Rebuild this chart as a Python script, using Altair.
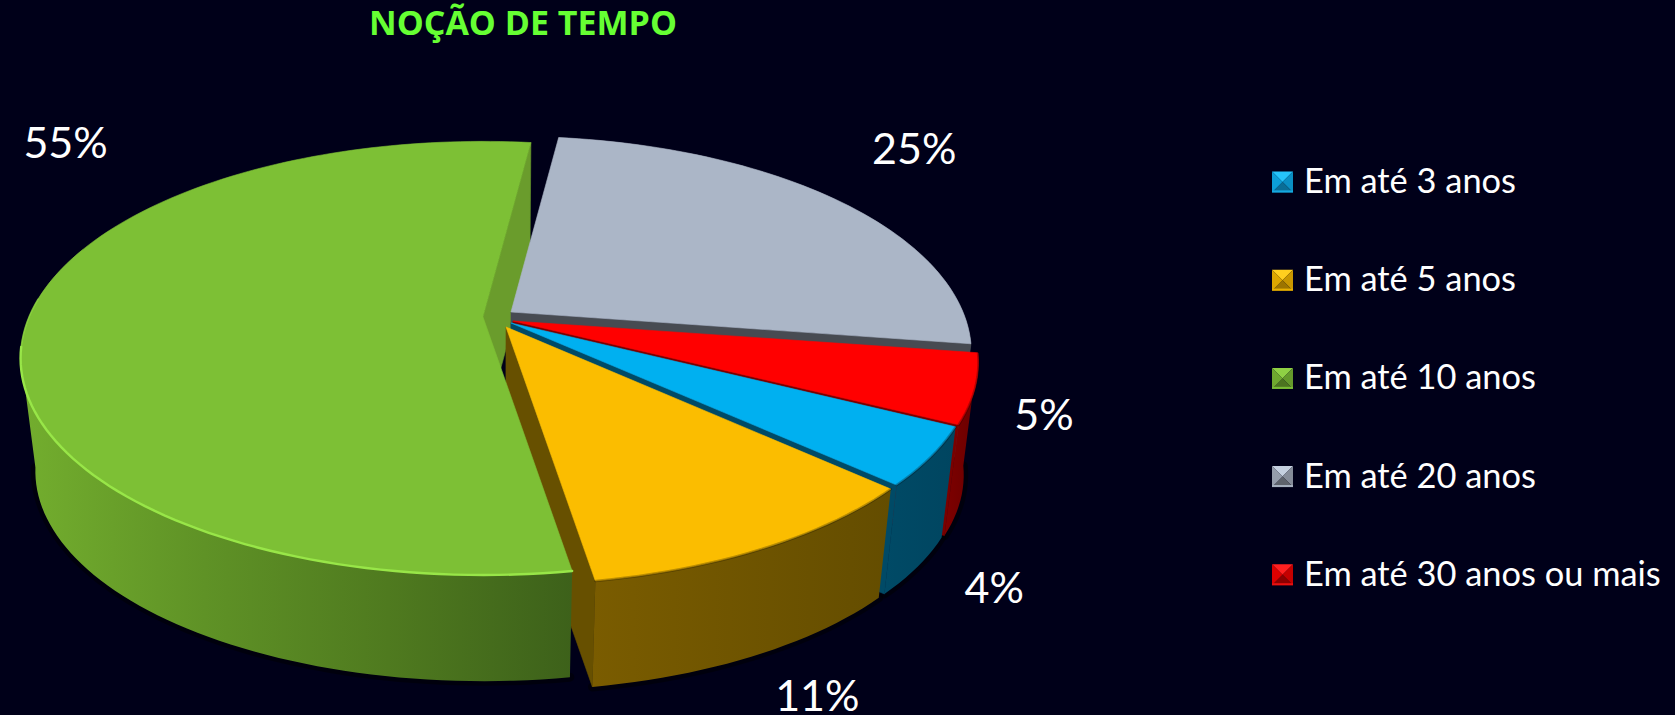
import math
import altair as alt
import pandas as pd

# ---- values ----
categories = ["Em até 3 anos", "Em até 5 anos", "Em até 10 anos", "Em até 20 anos", "Em até 30 anos ou mais"]
shown_labels = ["4%", "11%", "55%", "25%", "5%"]
# slice shares estimated from the drawn angles (the printed labels are rounded)
shares = [4.31, 10.64, 54.55, 25.36, 5.14]
title_text = "NOÇÃO DE TEMPO"

# ---- styles ----
BG = "#000019"
FONT = "Lato"
TOP = {"Em até 3 anos": "#00b0f0", "Em até 5 anos": "#fbbd00", "Em até 10 anos": "#7dc035",
       "Em até 20 anos": "#abb6c7", "Em até 30 anos ou mais": "#ff0000"}
END = {"Em até 3 anos": "#004a66", "Em até 5 anos": "#675000", "Em até 10 anos": "#6a9c2c",
       "Em até 20 anos": "#474b52", "Em até 30 anos ou mais": "#7a0000"}
WALL = {"Em até 3 anos": ["#004a66", "#004560"], "Em até 5 anos": ["#7a5c00", "#644d00"],
        "Em até 10 anos": ["#73ae2e", "#5f9226", "#4f7a1f", "#3d611a"],
        "Em até 20 anos": ["#474b52", "#474b52"], "Em até 30 anos ou mais": ["#7e0000", "#680000"]}
KEY = {"Em até 3 anos": ["#25c4fb", "#0a8fc4", "#0a6d96", "#0c9fd8", "#14a8e0"],
       "Em até 5 anos": ["#ffcf1f", "#c99700", "#9c7400", "#dca600", "#e8b000"],
       "Em até 10 anos": ["#8fd044", "#64992b", "#4c7420", "#6fa82f", "#78bb35"],
       "Em até 20 anos": ["#c5d0e0", "#858c99", "#5e636c", "#959dab", "#a5afbe"],
       "Em até 30 anos ou mais": ["#ff2020", "#c40000", "#8c0000", "#dc0000", "#e81010"]}
# top-of-slice tip of each exploded slice, horizontal radius, and text offsets from the rim
TIP = {"Em até 3 anos": (511, 323), "Em até 5 anos": (506, 327), "Em até 10 anos": (483, 317),
       "Em até 20 anos": (511, 312), "Em até 30 anos ou mais": (513, 321)}
RADIUS = {"Em até 3 anos": 456.0, "Em até 5 anos": 455.0, "Em até 10 anos": 454.0,
          "Em até 20 anos": 452.0, "Em até 30 anos ou mais": 457.0}
LABEL_SHIFT = {"Em até 3 anos": (63, 133), "Em até 5 anos": (52, 150), "Em até 10 anos": (38, -176),
               "Em até 20 anos": (80, -48), "Em até 30 anos ou mais": (69, 28)}
HB, K = 209.0, 0.19                      # perspective of the disc
SHRINK, VX, VY = 0.0308, 500.0, 4021.0   # how the underside converges
START = 7.2
W, H = 1675, 715


def rim(name, t):
    tip = TIP[name]
    a = math.radians(t)
    X, Z = math.sin(a), math.cos(a)
    w = 1 + K * Z
    return tip[0] + RADIUS[name] * X / w, tip[1] - HB * Z / w


def under(p):
    return p[0] + (VX - p[0]) * SHRINK, p[1] + (VY - p[1]) * SHRINK


xs = alt.Scale(domain=[0, W], nice=False, zero=False)
ys = alt.Scale(domain=[H, 0], nice=False, zero=False)


def frame(points):
    return pd.DataFrame([{"x": p[0], "y": p[1], "i": n} for n, p in enumerate(points)])


def enc(chart):
    return chart.encode(x=alt.X("x:Q", scale=xs, axis=None), y=alt.Y("y:Q", scale=ys, axis=None),
                        order=alt.Order("i:Q"))


def poly(points, fill):
    c = fill if isinstance(fill, str) else "transparent"
    return enc(alt.Chart(frame(points)).mark_line(fill=fill, stroke=c, strokeWidth=0.6, interpolate="linear-closed"))


def stroke_line(points, color, width, opacity=1.0):
    return enc(alt.Chart(frame(points)).mark_line(stroke=color, strokeWidth=width, opacity=opacity, strokeCap="round"))


def gradient(colors):
    return {"gradient": "linear", "x1": 0, "x2": 1, "y1": 0, "y2": 0,
            "stops": [{"offset": n / (len(colors) - 1), "color": c} for n, c in enumerate(colors)]}


# clockwise order as drawn from the back edge of the grey slice
sequence = ["Em até 20 anos", "Em até 30 anos ou mais", "Em até 3 anos", "Em até 5 anos", "Em até 10 anos"]
total = sum(shares)
spans = {}
t = START
for name in sequence:
    d = 360 * shares[categories.index(name)] / total
    spans[name] = (t, t + d)
    t += d


def arc(name, upto=None, start=None):
    t0, t1 = spans[name]
    if upto is not None:
        t1 = upto
    if start is not None:
        t0 = start
    n = max(2, int((t1 - t0) / 1.5))
    return [rim(name, t0 + (t1 - t0) * q / n) for q in range(n + 1)]


def top_piece(name):
    return poly([TIP[name]] + arc(name), TOP[name])


def wall_piece(name, upto=None):
    a = arc(name, upto)
    return poly(a + [under(p) for p in reversed(a)], gradient(WALL[name]))


def end_piece(name):
    e = arc(name)[-1]
    tip = TIP[name]
    return poly([tip, e, under(e), under(tip)], END[name])


G, Y, B, R, S = "Em até 10 anos", "Em até 5 anos", "Em até 3 anos", "Em até 30 anos ou mais", "Em até 20 anos"
layers = []
# soft dark halo under the disc
for name in [G, Y, B, R]:
    layers.append(stroke_line([under(p) for p in arc(name, 260 if name == G else None)], "#000000", 9, 0.45))

layers.append(end_piece(G))
layers += [wall_piece(S), end_piece(S), top_piece(S)]
layers += [wall_piece(R), end_piece(R), top_piece(R)]
layers += [wall_piece(B), end_piece(B), top_piece(B)]
layers.append(end_piece(Y))
layers += [wall_piece(G, 260), top_piece(G)]
# rim highlight of the green slice: strong at the front, fading towards the left
layers.append(stroke_line(arc(G, 262), "#98e648", 2.4))
layers.append(stroke_line(arc(G, 275, 262), "#98e648", 1.6, 0.6))
layers.append(stroke_line(arc(G, 290, 275), "#98e648", 1.0, 0.3))
layers += [wall_piece(Y), top_piece(Y)]
for name in [R, B, Y]:
    layers.append(stroke_line(arc(name), "#000000", 2.5, 0.25))

# percentage labels, anchored to the rim at each slice's middle angle
label_rows = []
for name, text in zip(categories, shown_labels):
    t0, t1 = spans[name]
    p = rim(name, (t0 + t1) / 2)
    sx, sy = LABEL_SHIFT[name]
    label_rows.append({"x": p[0] + sx, "y": p[1] + sy, "t": text})
layers.append(alt.Chart(pd.DataFrame(label_rows)).mark_text(font=FONT, fontSize=43, color="#ffffff").encode(
    x=alt.X("x:Q", scale=xs, axis=None), y=alt.Y("y:Q", scale=ys, axis=None), text="t:N"))

# legend: bevel facets and a text per row
ROW0, ROWSTEP, KEYX, TEXTX = 182.0, 98.2, 1282.5, 1304
facets = ["M-1,-1L1,-1L0,0Z", "M1,-1L1,1L0,0Z", "M-1,1L1,1L0,0Z", "M-1,-1L-1,1L0,0Z", "M-1,0.8L1,0.8L1,1L-1,1Z"]
for fi, shape in enumerate(facets):
    rows = [{"x": KEYX, "y": ROW0 + i * ROWSTEP, "c": KEY[c][fi]} for i, c in enumerate(categories)]
    layers.append(alt.Chart(pd.DataFrame(rows)).mark_point(shape=shape, size=441, filled=True, opacity=1, strokeWidth=0).encode(
        x=alt.X("x:Q", scale=xs, axis=None), y=alt.Y("y:Q", scale=ys, axis=None),
        color=alt.Color("c:N", scale=None, legend=None)))
legend_rows = [{"x": TEXTX, "y": ROW0 + i * ROWSTEP, "t": c} for i, c in enumerate(categories)]
layers.append(alt.Chart(pd.DataFrame(legend_rows)).mark_text(font=FONT, fontSize=34.4, color="#ffffff", align="left", dy=1).encode(
    x=alt.X("x:Q", scale=xs, axis=None), y=alt.Y("y:Q", scale=ys, axis=None), text="t:N"))

# title
layers.append(alt.Chart(pd.DataFrame({"t": [title_text]})).mark_text(
    font="Open Sans", fontWeight="bold", fontSize=34, color="#66ff33").encode(
    x=alt.value(523), y=alt.value(25), text="t:N"))

PAGE_CSS = "html,body{margin:0;padding:0;background:%s;overflow:hidden}" % BG
chart = alt.layer(*layers).properties(
    width=W, height=H, background=BG, padding=0,
).configure_view(stroke=None)

chart.save("out.html", embed_options={"renderer": "svg", "actions": False, "defaultStyle": PAGE_CSS})
